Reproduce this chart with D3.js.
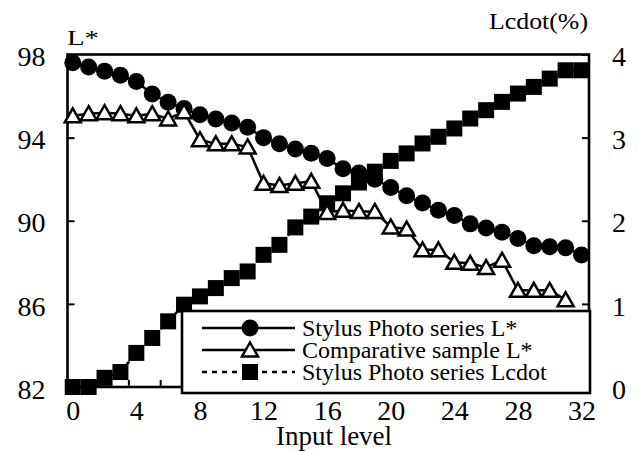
<!DOCTYPE html>
<html><head><meta charset="utf-8">
<script src="https://cdn.jsdelivr.net/npm/d3@7"></script>
<style>
body{margin:0;background:#fff}
svg{display:block}
</style>
</head><body>
<svg id="c" width="638" height="451"></svg>
<script>
// ---- data ----
const inputLevels = [0,1,2,3,4,5,6,7,8,9,10,11,12,13,14,15,16,17,18,19,20,21,22,23,24,25,26,27,28,29,30,31,32];
const stylusL = [97.6,97.4,97.2,97.0,96.7,96.1,95.7,95.4,95.1,94.9,94.7,94.5,94.0,93.7,93.45,93.25,93.0,92.5,92.3,92.0,91.6,91.2,90.85,90.5,90.25,89.85,89.65,89.45,89.15,88.8,88.75,88.7,88.35];
const comparativeL = [95.05,95.15,95.2,95.15,95.05,95.15,94.9,95.25,93.9,93.7,93.7,93.55,91.8,91.7,91.8,91.9,90.4,90.5,90.45,90.45,89.7,89.6,88.6,88.6,88.0,87.95,87.75,88.1,86.65,86.65,86.65,86.2];
const stylusLcdot = [0.0,0.0,0.11,0.18,0.41,0.59,0.79,0.99,1.09,1.19,1.31,1.39,1.59,1.71,1.92,2.05,2.21,2.33,2.46,2.59,2.72,2.81,2.93,3.01,3.11,3.23,3.33,3.43,3.53,3.61,3.71,3.81,3.81];
const leftTicks = [82,86,90,94,98];
const rightTicks = [0,1,2,3,4];
const xTicks = [0,4,8,12,16,20,24,28,32];
const xMinorTicks = [1.5,3.5,5.5,7.5,9.5,11.5,13.5,15.5,17.5,19.5,21.5,23.5,25.5,27.5,29.5,31.5];
const legendLabels = ["Stylus Photo series L*","Comparative sample L*","Stylus Photo series Lcdot"];
const leftTitle = "L*";
const rightTitle = "Lcdot(%)";
const xTitle = "Input level";

const FONT = "'Liberation Serif', monospace";

// ---- layout ----
const svg = d3.select("#c");
const m = {l:67.5, r:589, t:54.5, b:387};
const x = d3.scaleLinear().domain([-0.33, 32.47]).range([m.l, m.r]);
const yL = d3.scaleLinear().domain([82,98]).range([m.b, m.t]);
const yR = d3.scaleLinear().domain([0,4]).range([m.b, m.t]);

// axes
const axL = svg.append("g").attr("transform",`translate(${m.l},0)`)
  .call(d3.axisLeft(yL).tickValues(leftTicks).tickSize(-7).tickPadding(22).tickFormat(d3.format("d")));
const axR = svg.append("g").attr("transform",`translate(${m.r},0)`)
  .call(d3.axisRight(yR).tickValues(rightTicks).tickSize(-7).tickPadding(23).tickFormat(d3.format("d")));
const axB = svg.append("g").attr("transform",`translate(0,${m.b})`)
  .call(d3.axisBottom(x).tickValues(xTicks).tickSize(0).tickPadding(13).tickFormat(d3.format("d")));
const axBm = svg.append("g").attr("transform",`translate(0,${m.b})`)
  .call(d3.axisBottom(x).tickValues(xMinorTicks).tickSize(-7).tickFormat(""));
[axL,axR,axB,axBm].forEach(a=>{
  a.attr("font-family",null).attr("font-size",null);
  a.select(".domain").remove();
  a.selectAll("line").attr("stroke","#000").attr("stroke-width",2);
  a.selectAll("text").attr("fill","#000").attr("font-family",FONT).attr("font-size",28);
});
axL.selectAll("text").attr("dy","0.4em");
axR.selectAll("text").attr("dy","0.4em");

// frame
svg.append("rect").attr("x",m.l).attr("y",m.t).attr("width",m.r-m.l).attr("height",m.b-m.t)
  .attr("fill","none").attr("stroke","#000").attr("stroke-width",2.6);

// titles
svg.append("text").attr("font-family",FONT).attr("x",67).attr("y",45).attr("font-size",22)
  .attr("textLength",32).attr("lengthAdjust","spacingAndGlyphs").text(leftTitle);
svg.append("text").attr("font-family",FONT).attr("x",489).attr("y",29).attr("font-size",23)
  .attr("textLength",99).attr("lengthAdjust","spacingAndGlyphs").text(rightTitle);
svg.append("text").attr("font-family",FONT).attr("x",334).attr("y",445).attr("font-size",27)
  .attr("text-anchor","middle").text(xTitle);

// series lines
const lineL = d3.line().x((d,i)=>x(inputLevels[i])).y(d=>yL(d));
const lineR = d3.line().x((d,i)=>x(inputLevels[i])).y(d=>yR(d));
svg.append("path").attr("d",lineR(stylusLcdot)).attr("fill","none").attr("stroke","#000")
  .attr("stroke-width",2.5).attr("stroke-dasharray","5,5");
svg.append("path").attr("d",lineL(stylusL)).attr("fill","none").attr("stroke","#000").attr("stroke-width",2.5);
svg.append("path").attr("d",lineL(comparativeL)).attr("fill","none").attr("stroke","#000").attr("stroke-width",2.5);

// markers
const SQ = 16, CR = 8.5;
const triPath = "M0,-7.5L8,6.5L-8,6.5Z";
svg.append("g").selectAll("rect").data(stylusLcdot).join("rect")
  .attr("x",(d,i)=>x(inputLevels[i])-SQ/2).attr("y",d=>yR(d)-SQ/2)
  .attr("width",SQ).attr("height",SQ).attr("fill","#000");
svg.append("g").selectAll("circle").data(stylusL).join("circle")
  .attr("cx",(d,i)=>x(inputLevels[i])).attr("cy",d=>yL(d)).attr("r",CR).attr("fill","#000");
svg.append("g").selectAll("path").data(comparativeL).join("path")
  .attr("transform",(d,i)=>`translate(${x(inputLevels[i])},${yL(d)})`)
  .attr("d",triPath).attr("fill","#fff").attr("stroke","#000").attr("stroke-width",2.5)
  .attr("stroke-linejoin","miter");

// legend
const lg = svg.append("g");
lg.append("rect").attr("x",182).attr("y",311).attr("width",408).attr("height",82)
  .attr("fill","#fff").attr("stroke","#000").attr("stroke-width",2.6);
const rowY = [328,350,372];
legendLabels.forEach((lab,i)=>{
  const g = lg.append("g").attr("transform",`translate(0,${rowY[i]})`);
  g.append("line").attr("x1",202).attr("x2",295).attr("y1",0).attr("y2",0)
    .attr("stroke","#000").attr("stroke-width",2.6)
    .attr("stroke-dasharray", i===2 ? "5,5" : null);
  if(i===0) g.append("circle").attr("cx",250).attr("cy",0).attr("r",CR).attr("fill","#000");
  if(i===1) g.append("path").attr("transform","translate(250,0)").attr("d",triPath)
    .attr("fill","#fff").attr("stroke","#000").attr("stroke-width",2.5);
  if(i===2) g.append("rect").attr("x",250-SQ/2).attr("y",-SQ/2).attr("width",SQ).attr("height",SQ).attr("fill","#000");
  g.append("text").attr("font-family",FONT).attr("x",302).attr("y",8).attr("font-size",24).text(lab);
});
</script>
</body></html>
